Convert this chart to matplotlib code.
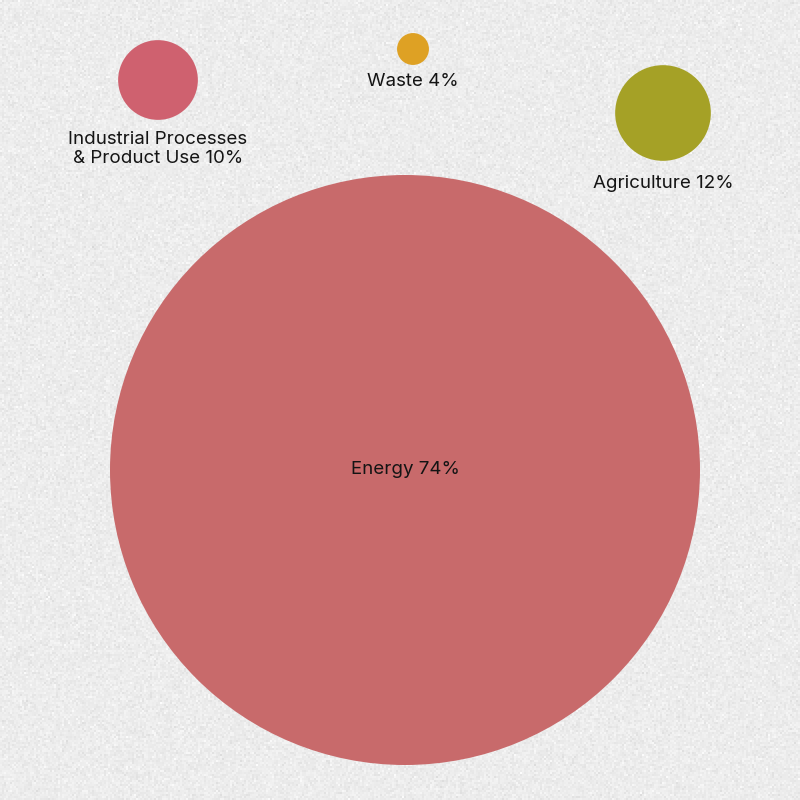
import numpy as np
import matplotlib.pyplot as plt
from matplotlib.patches import Circle

# données : part des émissions par secteur (%)
secteurs = ["Energy", "Industrial Processes\n& Product Use", "Waste", "Agriculture"]
parts = [74, 10, 4, 12]
couleurs = ["#c86a6b", "#cf616f", "#dea124", "#a5a126"]

# positions des bulles (pixels) et des labels
cx = [405, 158, 413, 663]
cy = [470, 80, 49, 113]
label_y = [469, 149, 82, 183]
echelle = 295 / 74  # rayon proportionnel à la part

fig = plt.figure(figsize=(8, 8), dpi=100)
ax = fig.add_axes([0, 0, 1, 1])
ax.set_xlim(0, 800)
ax.set_ylim(800, 0)
ax.axis("off")

# fond grain papier
rng = np.random.default_rng(3)
grain = 0.925 + rng.normal(0, 0.018, (400, 400))
ax.imshow(grain, cmap="gray", vmin=0, vmax=1, extent=[0, 800, 800, 0], zorder=0)

for nom, p, c, x, y, ly in zip(secteurs, parts, couleurs, cx, cy, label_y):
    ax.add_patch(Circle((x, y), p * echelle, color=c, lw=0, zorder=2))
    ax.text(x, ly, f"{nom} {p}%", ha="center", va="center", fontsize=13.5,
            family="Inter", color="#141414", linespacing=1.2, zorder=3)

fig.savefig("out.png", dpi=100)
